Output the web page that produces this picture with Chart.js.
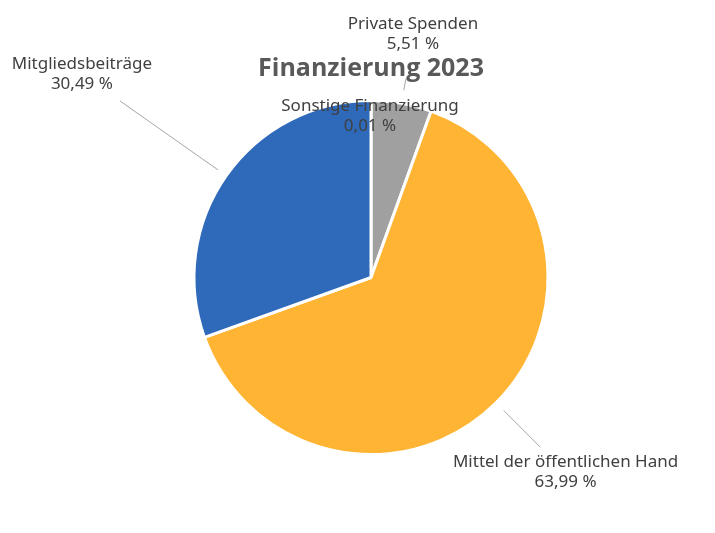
<!DOCTYPE html>
<html>
<head>
<meta charset="utf-8">
<script src="https://cdn.jsdelivr.net/npm/chart.js@4"></script>
<style>
  html, body { margin: 0; padding: 0; background: #fff; }
  #wrap { width: 715px; height: 533px; position: relative; }
</style>
</head>
<body>
<div id="wrap"><canvas id="chart" width="715" height="533"></canvas></div>
<script>
// Data
const categories = ['Sonstige Finanzierung', 'Private Spenden', 'Mittel der öffentlichen Hand', 'Mitgliedsbeiträge'];
const shares = [0.01, 5.51, 63.99, 30.49];
const sliceColors = ['#2F69BA', '#A0A0A0', '#FFB533', '#2F69BA'];
const chartTitle = 'Finanzierung 2023';

// label placement: offset of label centre from the leader end (or pie centre)
const labelSetup = [
  { dx: -1, dy: -161, leader: false },
  { dx: 7, dy: -44, leader: true, l0: 13, l1: 25 },
  { dx: 25, dy: 25, leader: true, l0: 11, l1: 63 },
  { dx: -38, dy: -27, leader: true, l0: 10, l1: 130 }
];

function fmt(v) {
  return v.toFixed(2).replace('.', ',') + ' %';
}

const labelPlugin = {
  id: 'pieLabels',
  afterDatasetsDraw(chart) {
    const ctx = chart.ctx;
    const arcs = chart.getDatasetMeta(0).data;
    ctx.save();
    ctx.textAlign = 'center';
    ctx.textBaseline = 'middle';
    // title
    ctx.font = 'bold 25px "Open Sans", sans-serif';
    ctx.fillStyle = '#595959';
    ctx.fillText(chartTitle, chart.chartArea.left + chart.chartArea.width / 2, 69);

    ctx.font = '17px "Noto Sans", sans-serif';
    arcs.forEach((arc, i) => {
      const mid = (arc.startAngle + arc.endAngle) / 2;
      const r = arc.outerRadius;
      const cx = arc.x, cy = arc.y;
      const set = labelSetup[i];
      let ax = cx, ay = cy;
      if (set.leader) {
        const x0 = cx + Math.cos(mid) * (r + set.l0);
        const y0 = cy + Math.sin(mid) * (r + set.l0);
        const x1 = cx + Math.cos(mid) * (r + set.l1);
        const y1 = cy + Math.sin(mid) * (r + set.l1);
        ctx.strokeStyle = '#A6A6A6';
        ctx.lineWidth = 1;
        ctx.beginPath();
        ctx.moveTo(x0, y0);
        ctx.lineTo(x1, y1);
        ctx.stroke();
        ax = x1; ay = y1;
      }
      const lx = ax + set.dx, ly = ay + set.dy;
      ctx.fillStyle = '#404040';
      ctx.fillText(categories[i], lx, ly - 10);
      ctx.fillText(fmt(shares[i]), lx, ly + 10);
    });
    ctx.restore();
  }
};

new Chart(document.getElementById('chart'), {
  type: 'pie',
  data: {
    labels: categories,
    datasets: [{
      data: shares,
      backgroundColor: sliceColors,
      borderColor: '#ffffff',
      borderWidth: 3
    }]
  },
  options: {
    responsive: false,
    animation: false,
    layout: { padding: { top: 99, bottom: 77, left: 100, right: 73 } },
    plugins: {
      legend: { display: false },
      tooltip: { enabled: false }
    }
  },
  plugins: [labelPlugin]
});
</script>
</body>
</html>
